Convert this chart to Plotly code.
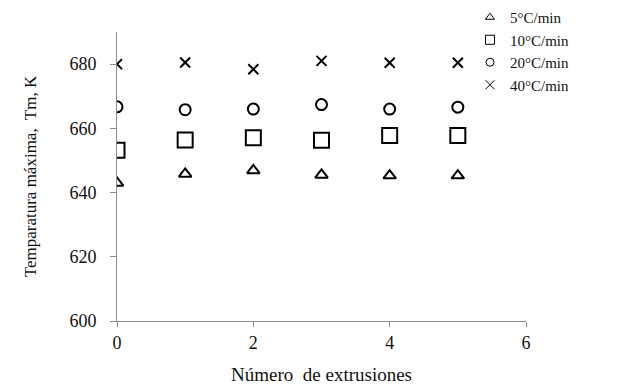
import plotly.graph_objects as go

extrusions = [0, 1, 2, 3, 4, 5]
rate_5 = [643.0, 645.8, 646.9, 645.5, 645.3, 645.3]
rate_10 = [653.2, 656.4, 657.1, 656.3, 657.8, 657.8]
rate_20 = [666.7, 665.8, 666.0, 667.4, 666.0, 666.6]
rate_40 = [680.0, 680.5, 678.4, 681.0, 680.4, 680.4]
y_ticks = [600, 620, 640, 660, 680]
x_ticks = [0, 2, 4, 6]

series = [
    ("5°C/min", rate_5, "triangle-up-open", 11, 8),
    ("10°C/min", rate_10, "square-open", 15, 9),
    ("20°C/min", rate_20, "circle-open", 11, 8),
    ("40°C/min", rate_40, "x-thin-open", 10, 9),
]

font = "Liberation Serif, Times New Roman, serif"
fig = go.Figure()
for name, vals, sym, size, lsize in series:
    fig.add_trace(go.Scatter(
        x=extrusions, y=vals, mode="markers", name=name, legendgroup=name,
        showlegend=False,
        marker=dict(symbol=sym, size=size, color="black",
                    line=dict(color="black", width=2)),
    ))
    fig.add_trace(go.Scatter(
        x=[None], y=[None], mode="markers", name=name, legendgroup=name,
        showlegend=True,
        marker=dict(symbol=sym, size=lsize, color="black",
                    line=dict(color="black", width=1)),
    ))
# invisible trace so that the label axis (y2) is drawn
fig.add_trace(go.Scatter(x=[None], y=[None], yaxis="y2", showlegend=False,
                         mode="markers", hoverinfo="skip"))

W, H = 623, 379
plot_h = H - 24 - 66
fig.update_layout(
    width=W, height=H,
    margin=dict(l=109, r=105, t=24, b=66, autoexpand=False),
    paper_bgcolor="white", plot_bgcolor="white",
    font=dict(family=font, size=18, color="#111"),
    showlegend=True,
    legend=dict(x=462 / W, y=1 + 31 / plot_h, xref="container", yref="paper",
                xanchor="left", yanchor="top",
                font=dict(family=font, size=15, color="#111"),
                itemwidth=30, tracegroupgap=0, bgcolor="rgba(0,0,0,0)"),
    xaxis=dict(range=[0, 6], tickvals=x_ticks, showgrid=False,
               zeroline=False, showline=True, linecolor="#8c8c8c", linewidth=1,
               ticks="outside", ticklen=5, tickcolor="#8c8c8c", automargin=False,
               tickfont=dict(family=font, size=18),
               title=dict(text="Número  de extrusiones", standoff=16,
                          font=dict(family=font, size=19))),
    yaxis=dict(range=[600, 690], tickvals=y_ticks, showticklabels=False,
               showgrid=False, zeroline=False, showline=True,
               linecolor="#8c8c8c", linewidth=1,
               ticks="outside", ticklen=6, tickcolor="#8c8c8c", automargin=False),
    yaxis2=dict(range=[600, 690], tickvals=y_ticks, overlaying="y", side="left",
                showgrid=False, zeroline=False, showline=False,
                ticks="outside", ticklen=16, tickcolor="rgba(0,0,0,0)",
                automargin=False, tickfont=dict(family=font, size=18),
                title=dict(text="Temparatura máxima,  Tm, K", standoff=28,
                           font=dict(family=font, size=17))),
)

fig.write_html("out.html")
